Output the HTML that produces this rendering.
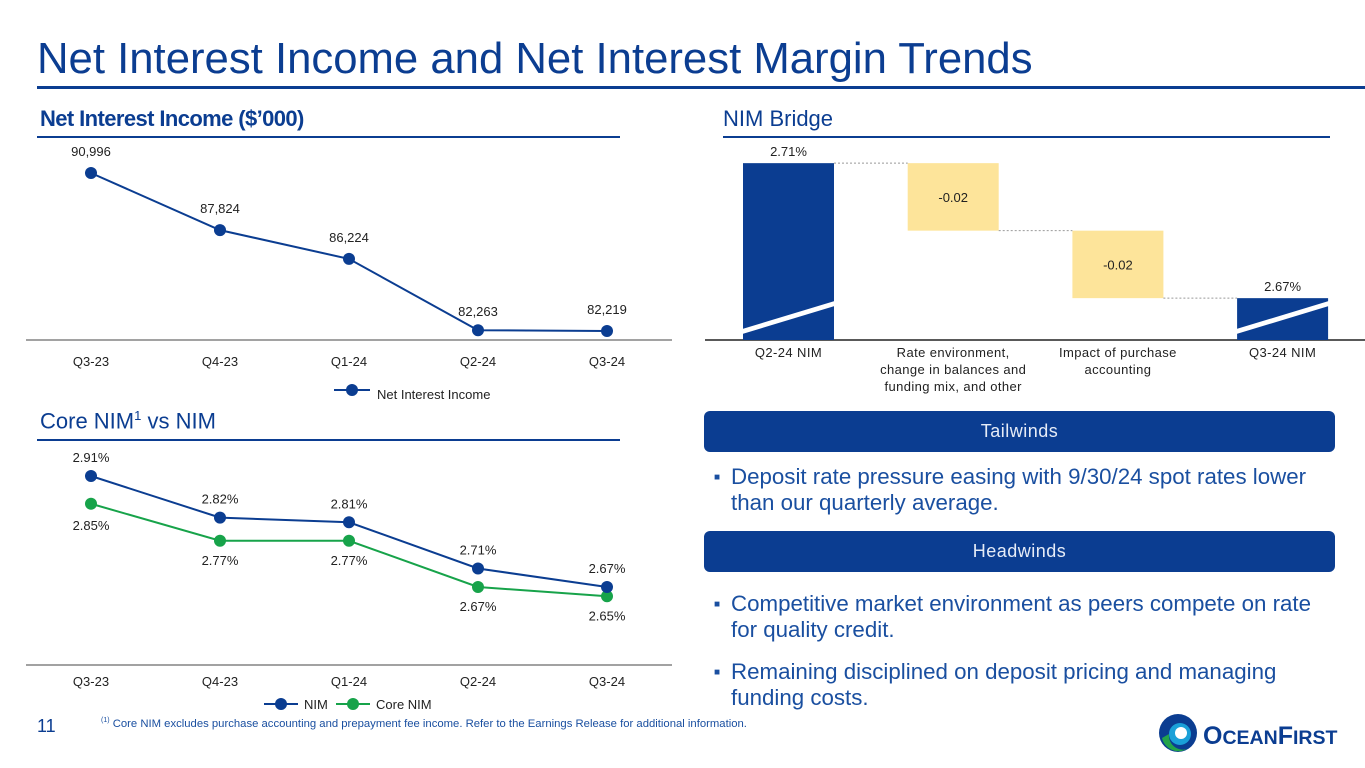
<!DOCTYPE html>
<html><head><meta charset="utf-8"><style>
body{margin:0;width:1365px;height:768px;background:#fff;font-family:"Liberation Sans",sans-serif;overflow:hidden;position:relative}
.a{position:absolute}
</style></head><body>
<div class="a" style="left:37px;top:34px;font-size:43.7px;color:#0b3d91;white-space:nowrap">Net Interest Income and Net Interest Margin Trends</div>
<div class="a" style="left:37px;top:86px;width:1328px;height:3px;background:#0b3d91"></div>
<div class="a" style="left:40px;top:106px;font-size:22px;font-weight:bold;color:#0b3d91;letter-spacing:-0.6px">Net Interest Income ($’000)</div>
<div class="a" style="left:723px;top:106px;font-size:22px;color:#0b3d91">NIM Bridge</div>
<div class="a" style="left:40px;top:408px;font-size:22px;color:#0b3d91">Core NIM<sup style="font-size:13px">1</sup> vs NIM</div>
<div class="a" style="left:704px;top:411px;width:631px;height:41px;border-radius:6px;background:#0b3d91;color:#e6ecf7;font-size:18px;text-align:center;line-height:41px;letter-spacing:0.5px">Tailwinds</div>
<div class="a" style="left:704px;top:531px;width:631px;height:41px;border-radius:6px;background:#0b3d91;color:#e6ecf7;font-size:18px;text-align:center;line-height:41px;letter-spacing:0.5px">Headwinds</div>
<div class="a" style="left:714px;top:464px;width:605px;font-size:22.3px;color:#1a4fa0;line-height:26px;padding-left:17px"><span style="position:absolute;left:0;top:1px;font-size:10px">■</span>Deposit rate pressure easing with 9/30/24 spot rates lower than our quarterly average.</div>
<div class="a" style="left:714px;top:591px;width:605px;font-size:22.3px;color:#1a4fa0;line-height:26px;padding-left:17px"><span style="position:absolute;left:0;top:1px;font-size:10px">■</span>Competitive market environment as peers compete on rate for quality credit.</div>
<div class="a" style="left:714px;top:659px;width:605px;font-size:22.3px;color:#1a4fa0;line-height:26px;padding-left:17px"><span style="position:absolute;left:0;top:1px;font-size:10px">■</span>Remaining disciplined on deposit pricing and managing funding costs.</div>
<div class="a" style="left:37px;top:716px;font-size:18px;color:#0b3d91">11</div>
<div class="a" style="left:101px;top:717px;font-size:11.3px;color:#1a4fa0;white-space:nowrap"><sup style="font-size:7px">(1)</sup> Core NIM excludes purchase accounting and prepayment fee income. Refer to the Earnings Release for additional information.</div>
<div class="a" style="left:1157px;top:712px;width:208px;height:42px">
<svg width="208" height="42"><circle cx="21" cy="21" r="19" fill="#0b3d91"/><circle cx="23" cy="22" r="11" fill="#1aa0d8"/><path d="M5 26 A17 17 0 0 0 30 37 A14 14 0 0 1 12 22Z" fill="#22a34a"/><circle cx="24" cy="21" r="6" fill="#fff"/>
<text x="46" y="32" font-family="Liberation Sans" font-weight="bold" font-size="25" fill="#0b3d91">O<tspan font-size="19.5">CEAN</tspan>F<tspan font-size="19.5">IRST</tspan></text></svg></div>
<svg class="a" style="left:0;top:0" width="1365" height="768" id="charts"></svg>
<script>
const quarters=["Q3-23","Q4-23","Q1-24","Q2-24","Q3-24"];
const niiValues=[90996,87824,86224,82263,82219];
const niiLabels=["90,996","87,824","86,224","82,263","82,219"];
const nimValues=[2.91,2.82,2.81,2.71,2.67];
const coreNimValues=[2.85,2.77,2.77,2.67,2.65];
const bridgeCats=["Q2-24 NIM","Rate environment,|change in balances and|funding mix, and other","Impact of purchase|accounting","Q3-24 NIM"];
const bridgeValues=[2.71,-0.02,-0.02,2.67];
const bridgeLabels=["2.71%","-0.02","-0.02","2.67%"];
const NS="http://www.w3.org/2000/svg",svg=document.getElementById('charts');
function mk(t,a,p){const e=document.createElementNS(NS,t);for(const k in a)e.setAttribute(k,a[k]);(p||svg).appendChild(e);return e;}
function tx(x,y,s,o){const e=mk('text',Object.assign({x:x,y:y,'text-anchor':'middle','font-family':'Liberation Sans','font-size':13,fill:'#222'},o||{}));e.textContent=s;return e;}
const xq=i=>91+i*129;
let e=mk('line',{x1:37,y1:137,x2:620,y2:137,stroke:'#0b3d91','stroke-width':2});
e=mk('line',{x1:723,y1:137,x2:1330,y2:137,stroke:'#0b3d91','stroke-width':2});
e=mk('line',{x1:37,y1:440,x2:620,y2:440,stroke:'#0b3d91','stroke-width':2});
const yNii=v=>331-(v-82219)*0.018;
mk('line',{x1:26,y1:340,x2:672,y2:340,stroke:'#444','stroke-width':1});
e=mk('polyline',{points:niiValues.map((v,i)=>xq(i)+','+yNii(v)).join(' '),fill:'none',stroke:'#0b3d91','stroke-width':2});

niiValues.forEach((v,i)=>{const c=mk('circle',{cx:xq(i),cy:yNii(v),r:6,fill:'#0b3d91'});

tx(xq(i),yNii(v)-(i==3?14:17),niiLabels[i]);tx(xq(i),366,quarters[i]);});
mk('line',{x1:334,y1:390,x2:370,y2:390,stroke:'#0b3d91','stroke-width':2});mk('circle',{cx:352,cy:390,r:6,fill:'#0b3d91'});
e=tx(377,399,'Net Interest Income',{'text-anchor':'start'});
const yNim=v=>476+(2.91-v)*462.5;
mk('line',{x1:26,y1:665,x2:672,y2:665,stroke:'#444','stroke-width':1});
[[coreNimValues,'#17a34a','core-nim'],[nimValues,'#0b3d91','nim']].forEach(([vals,col,nm])=>{
 const l=mk('polyline',{points:vals.map((v,i)=>xq(i)+','+yNim(v)).join(' '),fill:'none',stroke:col,'stroke-width':2});
 
 vals.forEach((v,i)=>{const c=mk('circle',{cx:xq(i),cy:yNim(v),r:6,fill:col});});
});
nimValues.forEach((v,i)=>tx(xq(i),yNim(v)-14,v.toFixed(2)+'%'));
coreNimValues.forEach((v,i)=>tx(xq(i),yNim(v)+(i==0?26:24),v.toFixed(2)+'%'));
quarters.forEach((q,i)=>tx(xq(i),686,q));
mk('line',{x1:264,y1:704,x2:298,y2:704,stroke:'#0b3d91','stroke-width':2});mk('circle',{cx:281,cy:704,r:6,fill:'#0b3d91'});
e=tx(304,709,'NIM',{'text-anchor':'start'});
mk('line',{x1:336,y1:704,x2:370,y2:704,stroke:'#17a34a','stroke-width':2});mk('circle',{cx:353,cy:704,r:6,fill:'#17a34a'});
e=tx(376,709,'Core NIM',{'text-anchor':'start'});
const base=2.6576,yB=v=>340-(v-base)*3375,bx=i=>743+i*164.7,bw=91;
mk('line',{x1:705,y1:340,x2:1365,y2:340,stroke:'#222','stroke-width':1.5});
let run=0;
bridgeValues.forEach((v,i)=>{let top,bot,col;
 if(i==0||i==bridgeValues.length-1){top=yB(v);bot=340;col='#0b3d91';run=v;}
 else{const nv=run+v;top=yB(Math.max(run,nv));bot=yB(Math.min(run,nv));run=nv;col='#fde49a';}
 const r=mk('rect',{x:bx(i),y:top,width:bw,height:bot-top,fill:col});
 
 if(i>0) mk('line',{x1:bx(i-1)+bw,y1:top,x2:bx(i),y2:top,stroke:'#999','stroke-width':1,'stroke-dasharray':'2,2'});
 if(col=='#0b3d91'){tx(bx(i)+bw/2,top-7,bridgeLabels[i]);
  mk('polygon',{points:(bx(i)-4)+','+(330)+' '+(bx(i)+bw+4)+','+(300)+' '+(bx(i)+bw+4)+','+(305)+' '+(bx(i)-4)+','+(335),fill:'#fff'});}
 else tx(bx(i)+bw/2,(top+bot)/2+5,bridgeLabels[i]);
 bridgeCats[i].split('|').forEach((s,k)=>tx(bx(i)+bw/2,357+k*17,s,{'letter-spacing':'0.4'}));
});
</script>
</body></html>
